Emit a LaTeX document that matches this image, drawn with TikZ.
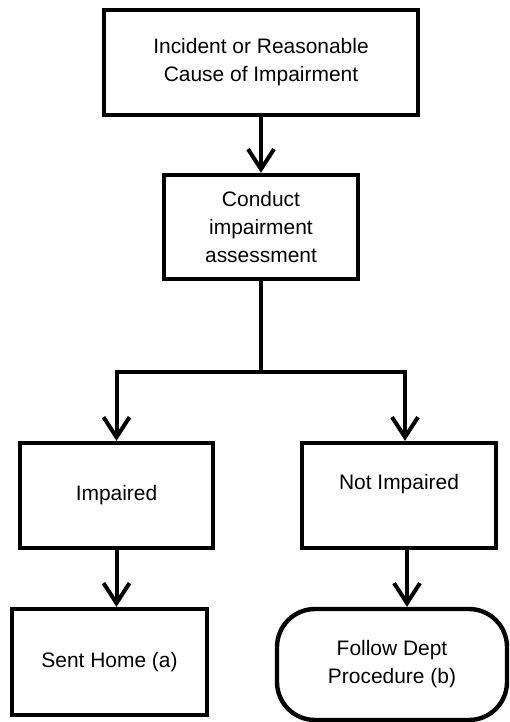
\documentclass[tikz,border=0pt]{standalone}
\usepackage{fontspec}
\setmainfont{Liberation Sans}
\usetikzlibrary{arrows.meta,positioning,calc}

\begin{document}
\begin{tikzpicture}[
    font=\fontsize{14.9}{19.9}\selectfont,
    >={Straight Barb[length=5mm,width=6.5mm]},
    every node/.style={align=center},
    flowbox/.style={draw, line width=1.1mm, inner sep=2pt},
    flowline/.style={line width=1mm},
]
\useasboundingbox (0,0) rectangle (12.725,-18.05);

% ---- trigger and assessment ----
\node[flowbox, minimum width=7.85cm, minimum height=2.625cm] (cause) at (6.525,-1.5625)
      {Incident or Reasonable\\Cause of Impairment};
\node[flowbox, minimum width=4.85cm, minimum height=2.6cm] (assess) at (6.525,-5.675)
      {Conduct\\impairment\\assessment};

% ---- result of the assessment ----
\node[flowbox, minimum width=4.825cm, minimum height=2.625cm] (impaired) at (2.9125,-12.3875)
      {Impaired};
\node[flowbox, minimum width=4.85cm, minimum height=2.625cm] (notimp) at (9.975,-12.3875)
      {Not Impaired\\\phantom{x}};

% ---- what follows ----
\node[flowbox, minimum width=4.875cm, minimum height=2.65cm] (home) at (2.7375,-16.55)
      {Sent Home (a)};
\node[flowbox, rounded corners=9.5mm, minimum width=5.75cm, minimum height=2.775cm] (dept)
      at (9.8,-16.6125) {Follow Dept\\Procedure (b)};

% ---- arrows ----
\coordinate (split) at (6.525,-9.3);
\draw[->, flowline] (cause) -- (assess);
\draw[flowline] (assess) -- (split);
\draw[->, flowline] (split) -| (impaired.north);
\draw[->, flowline] (split) -| ([xshift=1.5mm]notimp.north);
\draw[->, flowline] (impaired.south) -- (impaired.south |- home.north);
\draw[->, flowline] ([xshift=2mm]notimp.south) -- ([xshift=2mm]notimp.south |- dept.north);

\end{tikzpicture}
\end{document}
